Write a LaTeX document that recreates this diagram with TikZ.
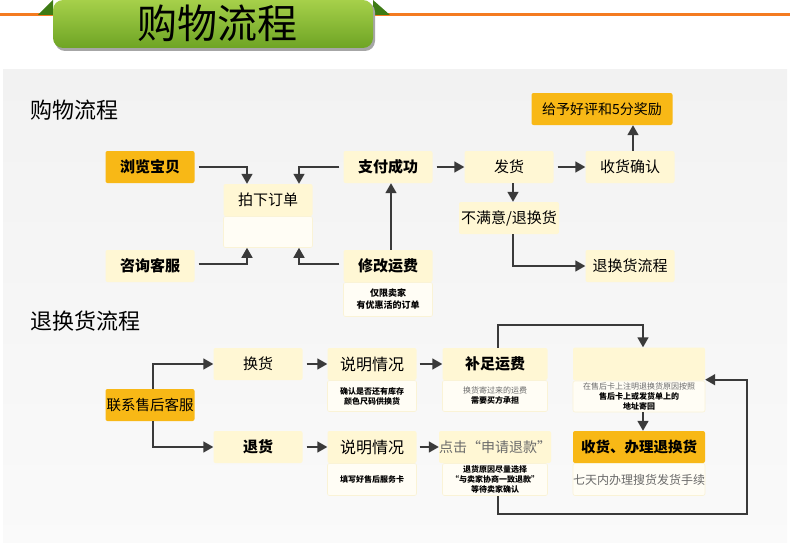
\documentclass[tikz,border=0pt]{standalone}
\usepackage{xcolor}
\usepackage{tikz}
\usepackage{fontspec}
\setmainfont{Noto Sans CJK SC}
\usetikzlibrary{
arrows.meta,
positioning
}
\definecolor{boxyellow}{HTML}{FFF7D4}
\definecolor{notefill}{HTML}{FFFDF5}
\definecolor{noteline}{HTML}{FAF3D6}
\definecolor{gold}{HTML}{F8B816}
\definecolor{arrowgray}{HTML}{3A3A3A}
\definecolor{panel}{HTML}{F2F2F2}
\definecolor{bannertop}{HTML}{A6D04A}
\definecolor{bannerbot}{HTML}{6EA424}
\definecolor{folddark}{HTML}{3E7B14}
\definecolor{lineorange}{HTML}{F47B20}
\definecolor{softtext}{HTML}{6A6A6A}

\begin{document}
\begin{tikzpicture}[
x=1pt, y=-1pt,
box/.style={
rectangle,
rounded corners=2pt,
fill=boxyellow,
minimum width=89pt,
minimum height=32pt,
inner sep=0pt,
align=center,
font=\fontsize{15}{17}\selectfont
},
hotbox/.style={box, fill=gold},
note/.style={
rectangle,
rounded corners=2pt,
fill=notefill,
draw=noteline,
line width=0.6pt,
minimum width=89pt,
minimum height=32pt,
inner sep=0pt,
align=center,
font=\fontsize{8}{10}\selectfont\bfseries
},
flow/.style={-{Triangle[length=10pt,width=11pt]}, draw=arrowgray, line width=1.6pt}
]
\useasboundingbox (0,0) rectangle (790,543);

% page and banner
\fill[white] (0,0) rectangle (790,543);
\shade[top color=panel, bottom color=white!60!panel] (3,70) rectangle (787,543);
\draw[lineorange, line width=3pt] (0,15) -- (53,15);
\draw[lineorange, line width=3pt] (373,15) -- (790,15);
\fill[folddark] (38,15) -- (53,0) -- (53,15) -- cycle;
\fill[folddark] (373,0) -- (390,15) -- (373,15) -- cycle;
\fill[black!35, rounded corners=10pt] (55,2) -- (55,51) -- (375,51) -- (375,2) -- cycle;
\shade[top color=bannertop, bottom color=bannerbot, rounded corners=10pt]
(53,0) -- (53,48) -- (373,48) -- (373,0) -- cycle;
\node[font=\fontsize{40}{42}\selectfont] (title) at (217,23) {购物流程};

% shopping flow
\node[anchor=west, font=\fontsize{22}{24}\selectfont] (shophead) at (27,110) {购物流程};

\node[hotbox, font=\fontsize{15}{17}\selectfont\bfseries] (browse) at (150,167) {浏览宝贝};
\node[box] (order) at (268,200) {拍下订单};
\node[note, below=0pt of order, minimum height=31pt] (orderx) {};
\node[box, font=\fontsize{15}{17}\selectfont\bfseries] (consult) at (150,266) {咨询客服};
\node[box, font=\fontsize{15}{17}\selectfont\bfseries] (paid) at (388,167) {支付成功};
\node[box, font=\fontsize{15}{17}\selectfont\bfseries] (fee) at (388,266) {修改运费};
\node[note, below=0pt of fee, minimum height=34pt, font=\fontsize{9}{12}\selectfont\bfseries] (feenote) {仅限卖家\\有优惠活的订单};
\node[box] (ship) at (509,167) {发货};
\node[box] (confirm) at (630,167) {收货确认};
\node[hotbox, minimum width=141pt, font=\fontsize{14}{16}\selectfont] (praise) at (602,109) {给予好评和5分奖励};
\node[box, minimum width=100pt] (unhappy) at (509,218) {不满意/退换货};
\node[box] (retflow) at (630,266) {退换货流程};

\draw[flow, shorten <=4pt] (browse.east) -| ([xshift=-21pt]order.north);
\draw[flow, shorten <=4pt] (paid.west) -| ([xshift=31pt]order.north);
\draw[flow, shorten <=4pt] ([yshift=2pt]consult.east) -| ([xshift=-21pt]orderx.south);
\draw[flow, shorten <=4pt] ([yshift=2pt]fee.west) -| ([xshift=31pt]orderx.south);
\draw[flow] ([xshift=3pt]fee.north) -- ([xshift=3pt]paid.south);
\draw[flow, shorten <=4pt] (paid) -- (ship);
\draw[flow, shorten <=4pt] (ship) -- (confirm);
\draw[flow] ([xshift=3pt]confirm.north) -- ([xshift=3pt]confirm.north |- praise.south);
\draw[flow] ([xshift=4pt]ship.south) -- ([xshift=4pt]unhappy.north);
\draw[flow] ([xshift=4pt]unhappy.south) |- (retflow.west);

% return flow
\node[anchor=west, font=\fontsize{22}{24}\selectfont] (rethead) at (27,321) {退换货流程};

\node[hotbox, font=\fontsize{14.5}{16}\selectfont] (service) at (150,405) {联系售后客服};
\node[box] (swap) at (258,364) {换货};
\node[box, font=\fontsize{15}{17}\selectfont\bfseries] (refund) at (258,447) {退货};
\node[box, font=\fontsize{16}{18}\selectfont] (explainA) at (372,364) {说明情况};
\node[note, below=0pt of explainA, minimum height=31pt] (explainAnote) {确认是否还有库存\\颜色尺码供换货};
\node[box, font=\fontsize{16}{18}\selectfont] (explainB) at (372,447) {说明情况};
\node[note, below=0pt of explainB] (explainBnote) {填写好售后服务卡};
\node[box, minimum width=105pt, font=\fontsize{15}{17}\selectfont\bfseries] (topup) at (495,364) {补足运费};
\node[note, below=0pt of topup, minimum width=105pt, minimum height=31pt] (topupnote)
{{\color{softtext}\mdseries 换货寄过来的运费}\\需要买方承担};
\node[box, minimum width=105pt, text=softtext, font=\fontsize{14}{16}\selectfont] (apply) at (495,447) {点击“申请退款”};
\node[note, below=0pt of apply, minimum width=105pt] (applynote)
{退货原因尽量选择\\“与卖家协商一致退款”\\等待卖家确认};
\node[box, minimum width=132pt, minimum height=33pt] (blank) at (639,364) {};
\node[note, below=0pt of blank, minimum width=132pt, minimum height=31pt] (blanknote)
{{\color{softtext}\mdseries 在售后卡上注明退换货原因按照}\\售后卡上或发货单上的\\地址寄回};
\node[hotbox, minimum width=132pt, font=\fontsize{14.5}{16}\selectfont\bfseries] (receive) at (639,447) {收货、办理退换货};
\node[note, below=0pt of receive, minimum width=132pt, font=\fontsize{12}{14}\selectfont, text=softtext] (receivenote)
{七天内办理搜货发货手续};
\coordinate (corner) at (747,514);

\draw[flow] ([xshift=3pt]service.north) |- (swap.west);
\draw[flow] ([xshift=3pt]service.south) |- (refund.west);
\draw[flow, shorten <=4pt] (swap) -- (explainA);
\draw[flow, shorten <=4pt] (refund) -- (explainB);
\draw[flow, shorten <=3pt] (explainA) -- (topup);
\draw[flow, shorten <=3pt] (explainB) -- (apply);
\draw[flow] ([xshift=3pt]topup.north) -- ++(0,-23) -| ([xshift=4pt]blank.north);
\draw[flow] ([xshift=4pt]blanknote.south) -- ([xshift=4pt]receive.north);
\draw[flow] ([xshift=3pt]applynote.south) |- (corner) |- ([yshift=1pt]blank.south east);

\end{tikzpicture}
\end{document}
